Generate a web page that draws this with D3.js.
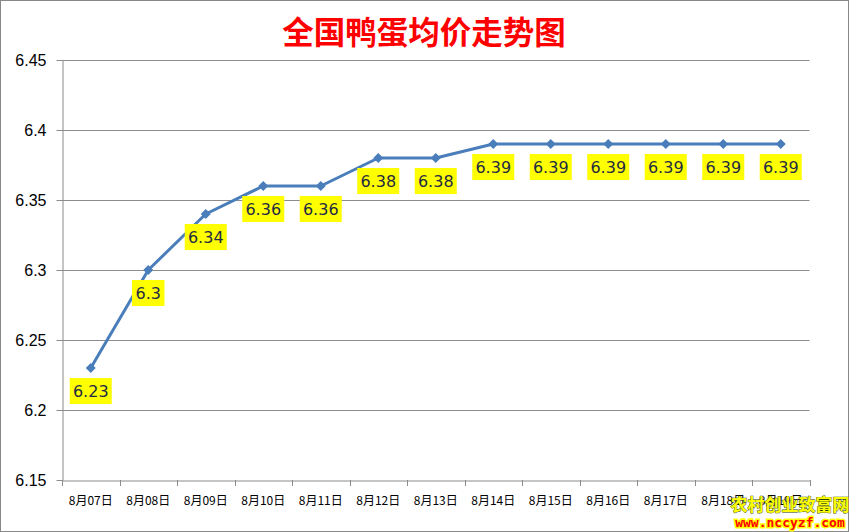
<!DOCTYPE html>
<html><head><meta charset="utf-8">
<script src="https://cdn.jsdelivr.net/npm/d3@7"></script>
<style>body{margin:0;background:#fff;}svg{display:block;}</style>
</head><body>
<svg id="c" width="849" height="532"></svg>
<script>
const categories = ["8月07日","8月08日","8月09日","8月10日","8月11日","8月12日","8月13日","8月14日","8月15日","8月16日","8月17日","8月18日","8月19日"];
const values = [6.23, 6.3, 6.34, 6.36, 6.36, 6.38, 6.38, 6.39, 6.39, 6.39, 6.39, 6.39, 6.39];
const yTicks = [6.15, 6.2, 6.25, 6.3, 6.35, 6.4, 6.45];
const title = "全国鸭蛋均价走势图";

const svg = d3.select("#c");
const W = 849, H = 532;
const m = {left: 62, top: 60};
const x = d3.scaleBand().domain(categories).range([m.left, 809.5]);
const y = d3.scaleLinear().domain([6.15, 6.45]).range([480, 60]);

svg.append("rect").attr("x", 0.5).attr("y", 0.5).attr("width", W - 1).attr("height", H - 1)
  .attr("fill", "#fff").attr("stroke", "#888").attr("stroke-width", 1);

svg.append("text").attr("x", 424).attr("y", 44).attr("text-anchor", "middle")
  .attr("font-family", "Noto Sans CJK SC").attr("font-weight", "bold").attr("font-size", 31.5)
  .attr("fill", "#ff0000").text(title);

// grid
svg.append("g").selectAll("line").data(yTicks.slice(1)).join("line")
  .attr("x1", m.left).attr("x2", 809.5)
  .attr("y1", d => Math.round(y(d)) + 0.5).attr("y2", d => Math.round(y(d)) + 0.5)
  .attr("stroke", "#8c8c8c").attr("stroke-width", 1);

// y axis
const ya = svg.append("g").attr("transform", `translate(${m.left + 0.5},0)`)
  .call(d3.axisLeft(y).tickValues(yTicks).tickFormat(d => String(+d.toFixed(2))).tickSize(6).tickSizeOuter(0));
ya.select(".domain").attr("stroke", "#8c8c8c");
ya.selectAll(".tick line").attr("stroke", "#8c8c8c");
ya.selectAll(".tick text").attr("font-family", "Liberation Sans, Arial").attr("font-size", 16)
  .attr("fill", "#000").attr("x", -16);

// x axis
const xa = svg.append("g").attr("transform", `translate(0,${480.5})`)
  .call(d3.axisBottom(x).tickSize(0));
xa.select(".domain").attr("stroke", "#8c8c8c");
xa.selectAll(".tick text").attr("font-family", "Noto Sans CJK SC").attr("font-size", 12)
  .attr("fill", "#000").attr("dy", "1.75em");
const bounds = categories.map(c => x(c)).concat([x(categories[categories.length - 1]) + x.bandwidth()]);
svg.append("g").selectAll("line").data(bounds).join("line")
  .attr("x1", d => Math.round(d) + 0.5).attr("x2", d => Math.round(d) + 0.5)
  .attr("y1", 480).attr("y2", 486).attr("stroke", "#8c8c8c");

const cx = d => x(d) + x.bandwidth() / 2;
const line = d3.line().x((d, i) => cx(categories[i])).y(d => y(d));
svg.append("path").datum(values).attr("d", line).attr("fill", "none")
  .attr("stroke", "#4a7ebb").attr("stroke-width", 3).attr("stroke-linejoin", "round");

svg.append("g").selectAll("path").data(values).join("path")
  .attr("d", "M0,-5L5,0L0,5L-5,0Z")
  .attr("transform", (d, i) => `translate(${cx(categories[i])},${y(d)})`)
  .attr("fill", "#4a7ebb");

// labels
const lg = svg.append("g");
values.forEach((v, i) => {
  const t = String(v);
  const px = cx(categories[i]), py = y(v) + 23;
  const w = t.length * 9.5 + 4;
  lg.append("rect").attr("x", px - w / 2).attr("y", py - 13).attr("width", w).attr("height", 26)
    .attr("fill", "#ffff00");
  lg.append("text").attr("x", px).attr("y", py + 6).attr("text-anchor", "middle")
    .attr("font-family", "DejaVu Sans").attr("font-size", 16).attr("fill", "#1f2a44").text(t);
});

// watermark
svg.append("text").attr("x", 790).attr("y", 511).attr("text-anchor", "middle")
  .attr("font-family", "Noto Sans CJK SC").attr("font-weight", "bold").attr("font-size", 17)
  .attr("fill", "#ffff00").attr("stroke", "#2a4000").attr("stroke-width", 0.8).attr("paint-order", "stroke")
  .text("农村创业致富网");
svg.append("text").attr("x", 790).attr("y", 527).attr("text-anchor", "middle")
  .attr("font-family", "DejaVu Sans Mono").attr("font-weight", "bold").attr("font-size", 13)
  .attr("fill", "#ff0000").attr("stroke", "#ffff00").attr("stroke-width", 3).attr("paint-order", "stroke")
  .text("www.nccyzf.com");
</script>
</body></html>
